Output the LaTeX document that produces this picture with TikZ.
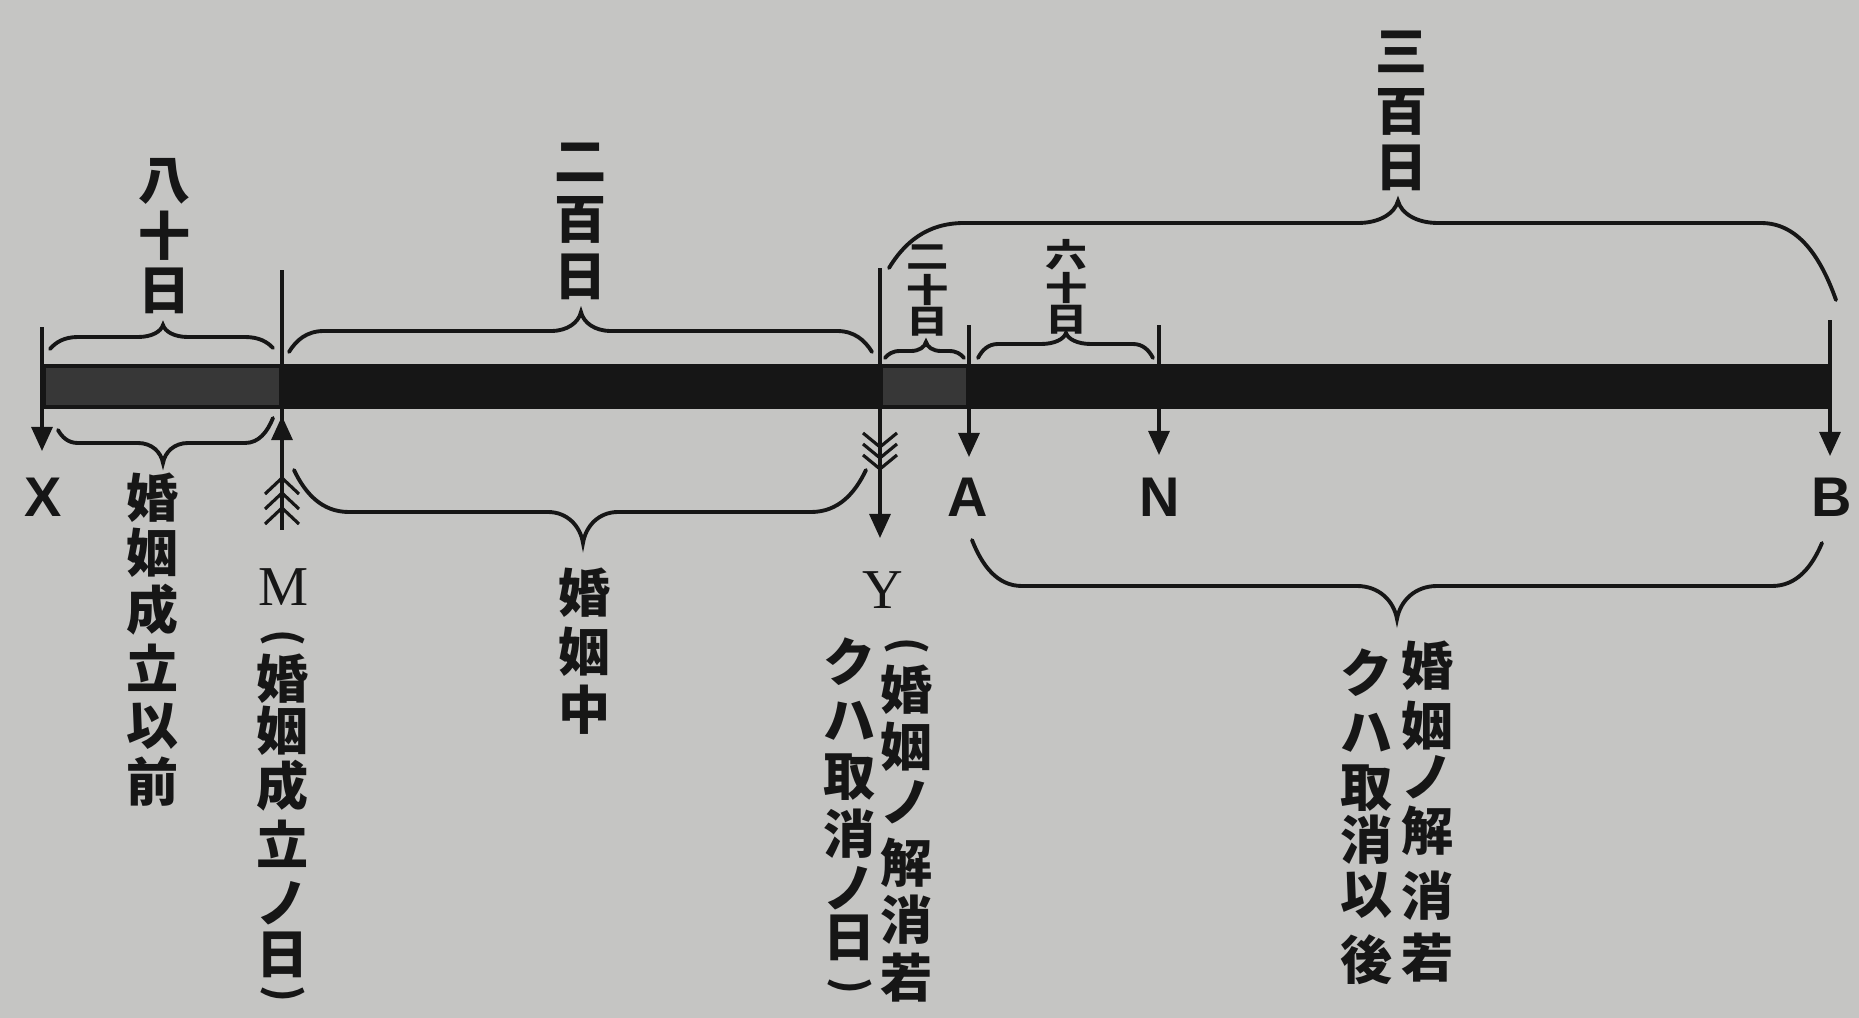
\documentclass[tikz,border=0pt]{standalone}
\usepackage{fontspec}
\newfontfamily\cjk{Noto Sans CJK JP}
\newfontfamily\lsans{Liberation Sans}
\newfontfamily\lserif{Liberation Serif}
\usetikzlibrary{arrows.meta}
\definecolor{paper}{RGB}{197,197,195}
\definecolor{ink}{RGB}{22,22,22}
\definecolor{barg}{RGB}{55,55,55}
\newcommand\brt{30}
% brace: x1,yend1,r1, x2,yend2,r2, xm,yflat,ytip  (tip half width = \brt)
\newcommand\hbrc[9]{%
 \draw[brc] (#1,#2) .. controls ({#1+0.2*#3},{#8+0.45*(#2-#8)}) and ({#1+0.5*#3},#8) .. ({#1+#3},#8)
   -- ({#7-\brt},#8) .. controls ({#7-0.45*\brt},#8) and ({#7-0.08*\brt},{#8+0.45*(#9-#8)}) .. (#7,#9)
   .. controls ({#7+0.08*\brt},{#8+0.45*(#9-#8)}) and ({#7+0.45*\brt},#8) .. ({#7+\brt},#8)
   -- ({#4-#6},#8) .. controls ({#4-0.5*#6},#8) and ({#4-0.2*#6},{#8+0.45*(#5-#8)}) .. (#4,#5);}
% vertical column of characters: name, x, style, list y/char
\newcommand\vcol[4]{\foreach \yy/\cc [count=\k] in {#4} {\node[#3] (#1\k) at (#2,\yy) {\cc};}}
% squeezed column (small counts)
\newcommand\vcolsq[4]{\foreach \yy/\cc [count=\k] in {#4} {\node[#3] (#1\k) at (#2,\yy) {\scalebox{1}[0.78]{\cc}};}}
\begin{document}
\begin{tikzpicture}[x=0.01cm,y=-0.01cm,
  ln/.style={draw=ink, line width=0.9pt},
  brc/.style={draw=ink, line width=1.1pt, line cap=round},
  arr/.style={draw=ink, line width=0.9pt, -{Triangle[length=0.24cm,width=0.21cm]}},
  cj/.style={font=\cjk\bfseries\fontsize{14.8pt}{14.8pt}\selectfont, text=ink, inner sep=0pt},
  cjs/.style={font=\cjk\bfseries\fontsize{12pt}{12pt}\selectfont, text=ink, inner sep=0pt},
  par/.style={font=\cjk\bfseries\fontsize{12pt}{12pt}\selectfont, text=ink, inner sep=0pt, rotate=-90},
  lat/.style={font=\lsans\bfseries\fontsize{15.9pt}{15.9pt}\selectfont, text=ink, inner sep=0pt},
  ser/.style={font=\lserif\fontsize{16pt}{16pt}\selectfont, text=ink, inner sep=0pt},
]
\useasboundingbox (0,0) rectangle (1859,1018);
\fill[paper] (0,0) rectangle (1859,1018);

% named points
\coordinate (Xtop) at (42,327);  \coordinate (Xtip) at (42,451);
\coordinate (Mtop) at (282,270); \coordinate (Mbot) at (282,530); \coordinate (Mtip) at (282,416);
\coordinate (Ytop) at (880,268); \coordinate (Ytip) at (880,538);
\coordinate (Atop) at (969,325); \coordinate (Atip) at (969,457);
\coordinate (Ntop) at (1159,325); \coordinate (Ntip) at (1159,455);
\coordinate (Btop) at (1830,320); \coordinate (Btip) at (1830,456);

% markers
\draw[arr] (Xtop) -- (Xtip);
\draw[arr] (Atop) -- (Atip);
\draw[arr] (Ntop) -- (Ntip);
\draw[arr] (Btop) -- (Btip);
\draw[ln] (Mtop) -- (Mbot);
\draw[arr] (282,452) -- (Mtip);
\foreach \yy in {478,493,508} \draw[ln] (265,\yy+16) -- (282,\yy) -- (299,\yy+16);
\draw[ln] (Ytop) -- (880,505);
\draw[arr] (880,495) -- (Ytip);
\foreach \yy in {447,458,469} \draw[ln] (863,\yy-14) -- (880,\yy) -- (897,\yy-14);

% bar
\fill[ink] (42,364) rectangle (1832,409);
\fill[barg] (46,368) rectangle (279,405);
\fill[barg] (883,368) rectangle (966,405);

% braces
\renewcommand\brt{25}
\hbrc{50}{349}{28}{273}{348}{28}{163}{337}{325}
\hbrc{58}{430}{20}{273}{418}{28}{163}{443}{463}
\renewcommand\brt{30}
\hbrc{289}{352}{35}{872}{352}{35}{581}{331}{312}
\renewcommand\brt{35}
\hbrc{294}{470}{55}{866}{470}{55}{583}{512}{543}
\renewcommand\brt{15}
\hbrc{885}{358}{15}{964}{358}{15}{926}{351}{342}
\renewcommand\brt{25}
\hbrc{978}{358}{20}{1153}{358}{20}{1066}{344}{333}
\renewcommand\brt{40}
\hbrc{889}{268}{75}{1836}{300}{75}{1398}{223}{201}
\hbrc{972}{540}{50}{1822}{543}{50}{1397}{586}{619}

% letters
\node[lat] (X) at (43,497) {X};
\node[lat] (A) at (968,497) {A};
\node[lat] (N) at (1160,497) {N};
\node[lat] (B) at (1832,497) {B};
\node[ser] (M) at (284,587) {M};
\node[ser] (Y) at (883,590) {Y};

% labels above
\vcol{ha}{165}{cj}{181/八,236/十,291/日}
\vcol{nh}{581}{cj}{162/二,220/百,277/日}
\vcol{sh}{1402}{cj}{52/三,112/百,168/日}
\vcolsq{nj}{928}{cjs}{257/二,290/十,322/日}
\vcolsq{rj}{1067}{cjs}{255/六,288/十,320/日}

% labels below
\vcol{mae}{153}{cj}{498/婚,553/姻,610/成,668/立,726/以,782/前}
\vcol{chu}{585}{cj}{593/婚,652/姻,710/中}
\node[par] (mcL) at (283,638) {(};
\vcol{mc}{283}{cj}{679/婚,731/姻,786/成,844/立,903/ノ,955/日}
\node[par] (mcR) at (283,994) {)};
\node[par] (yrL) at (907,646) {(};
\vcol{yr}{907}{cj}{690/婚,747/姻,802/ノ,863/解,920/消,978/若}
\vcol{yl}{850}{cj}{662/ク,721/ハ,777/取,834/消,888/ノ,938/日}
\node[par] (ylR) at (850,986) {)};
\vcol{br}{1428}{cj}{666/婚,726/姻,777/ノ,831/解,896/消,958/若}
\vcol{bl}{1367}{cj}{673/ク,733/ハ,788/取,840/消,895/以,960/後}
\end{tikzpicture}
\end{document}
